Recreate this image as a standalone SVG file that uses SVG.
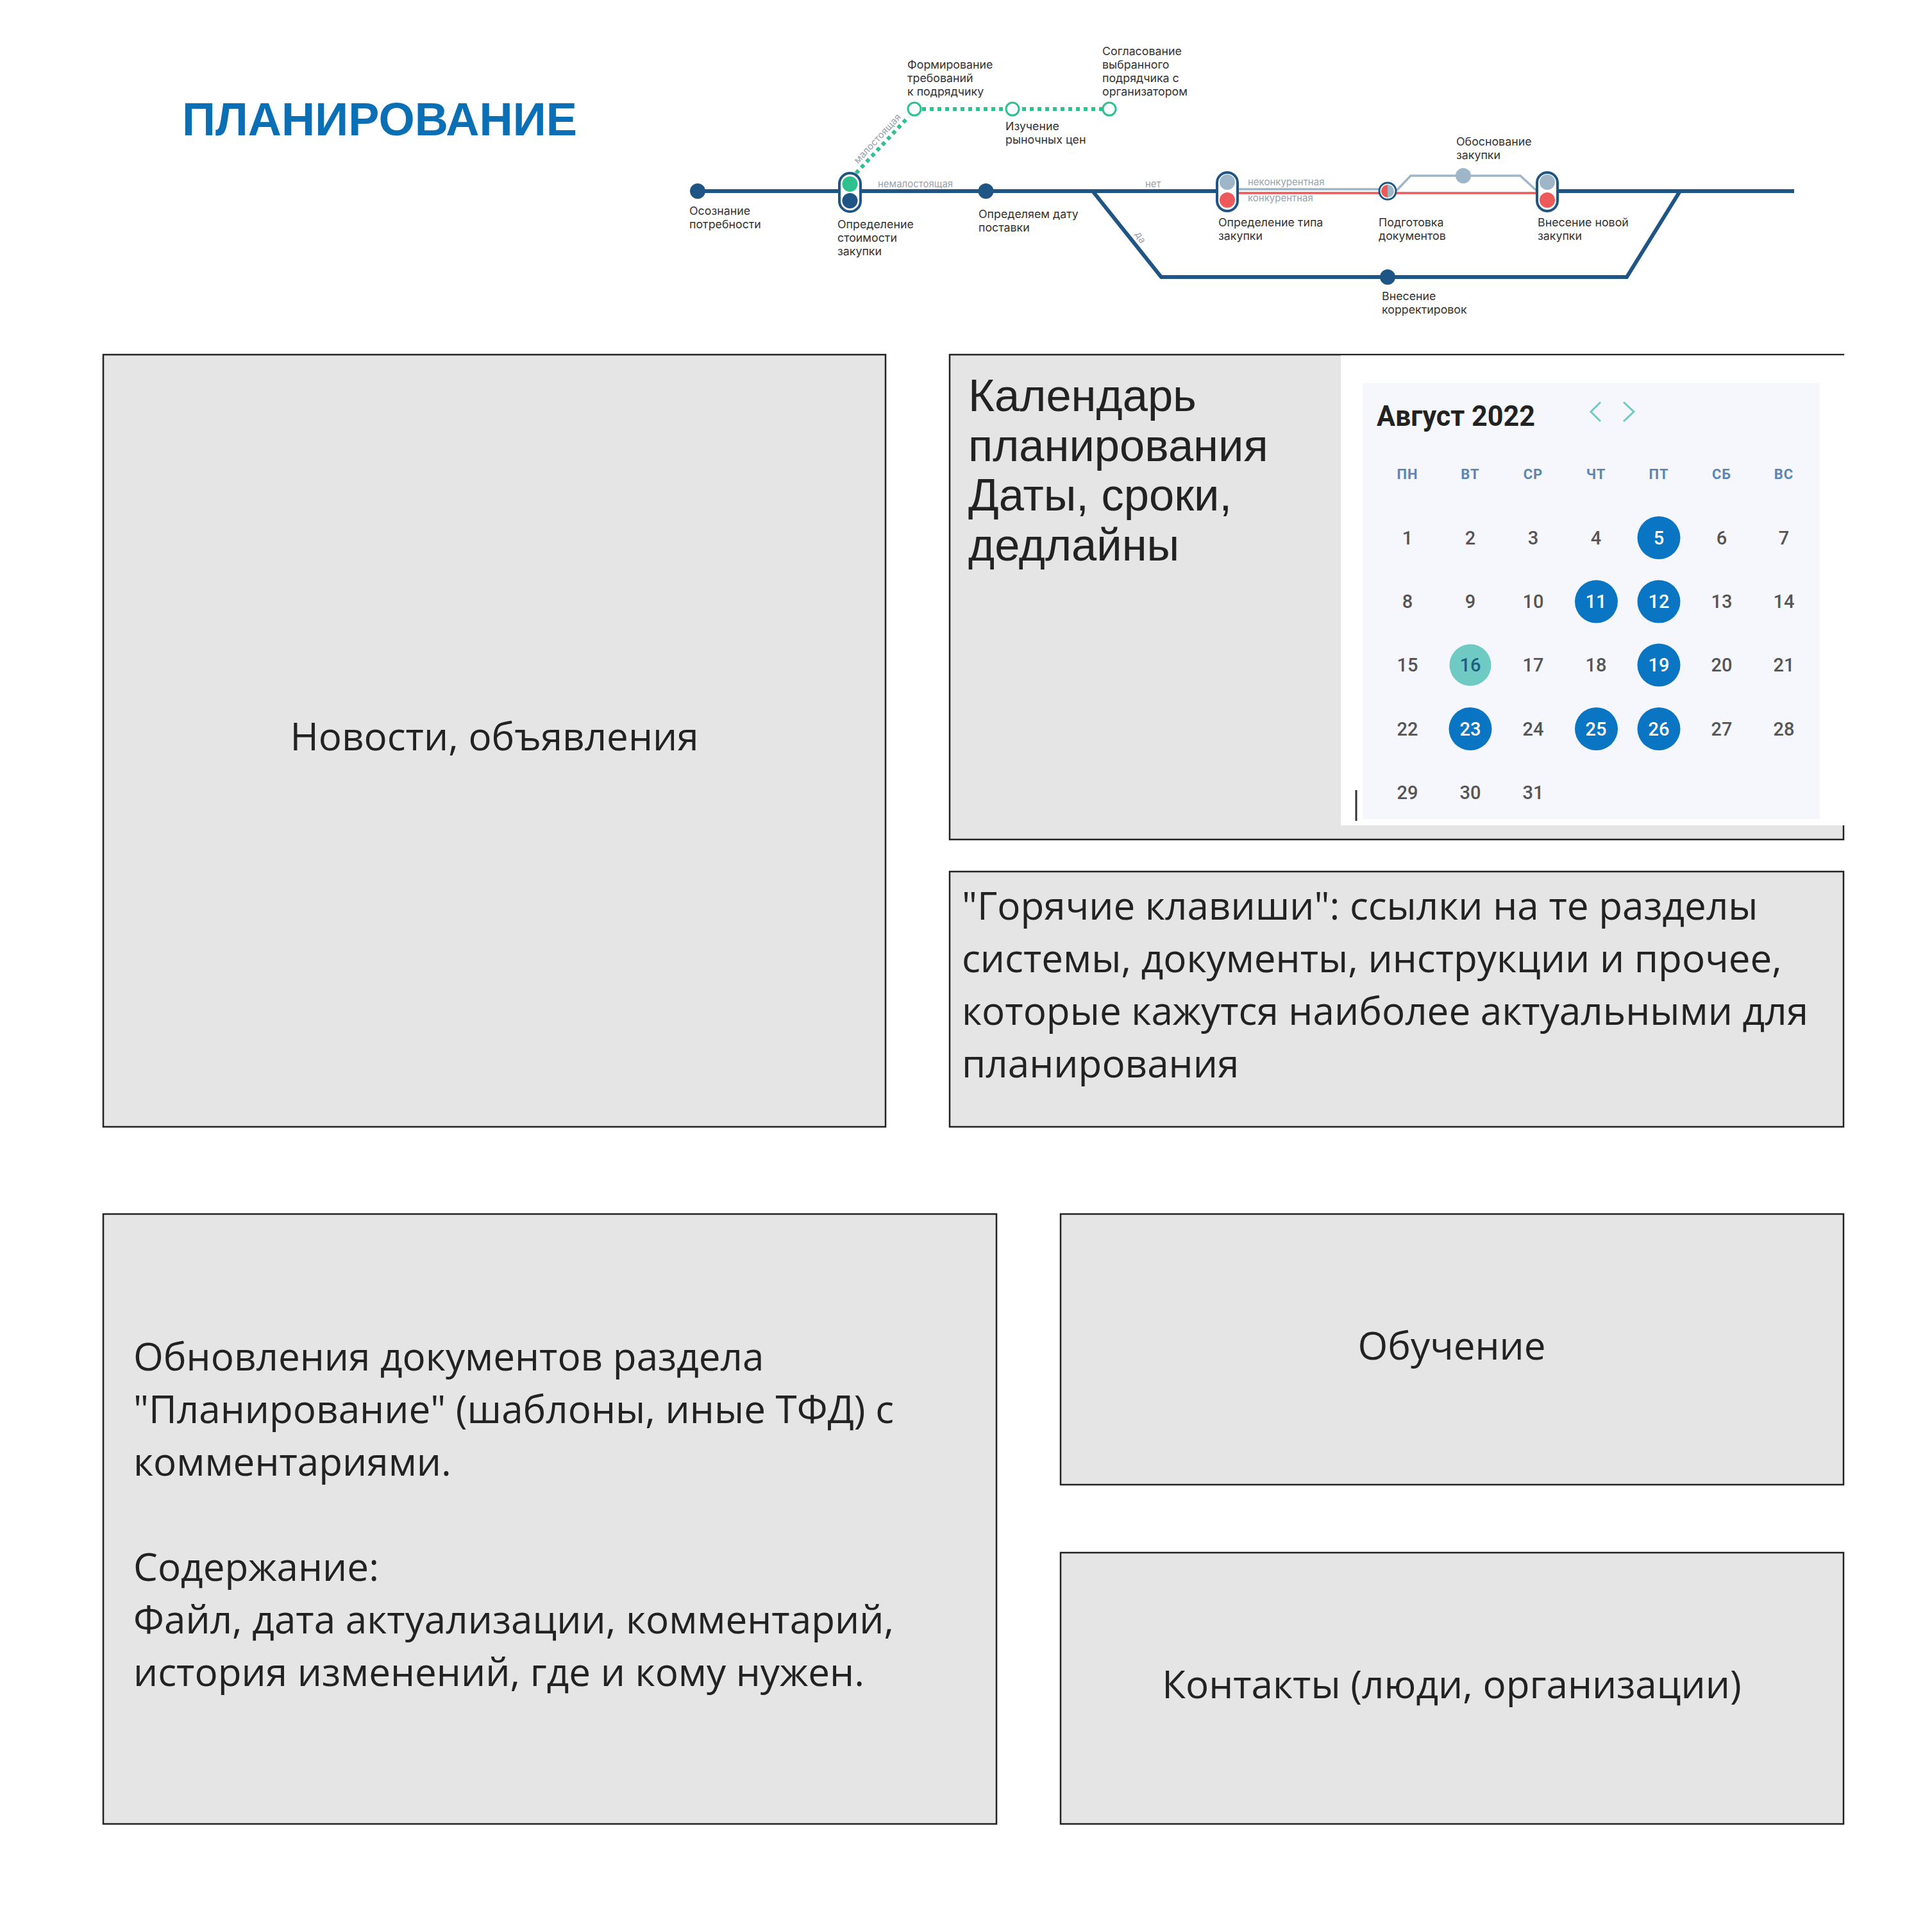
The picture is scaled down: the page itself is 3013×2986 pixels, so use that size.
<svg xmlns="http://www.w3.org/2000/svg" width="3013" height="2986" viewBox="0 0 3013 2986">
<style>
.box{fill:#e5e5e5;stroke:#222;stroke-width:2.5}
.t{font-family:"Open Sans","Noto Sans",sans-serif;font-size:60.2px;fill:#222}
.a{font-family:"Liberation Sans",Arial,sans-serif;font-size:70.5px;fill:#222}
.m{font-family:Inter,Roboto,sans-serif;font-size:17.8px;fill:#333}
.g{font-family:Inter,Roboto,sans-serif;font-size:15px;fill:#96a3ad}
.l{fill:none;stroke:#1e5585;stroke-width:6}
.d{font-family:Roboto,"Liberation Sans",sans-serif;font-size:29px;font-weight:500;fill:#555;text-anchor:middle}
.w{font-family:Roboto,"Liberation Sans",sans-serif;font-size:22px;font-weight:bold;fill:#5a85b5;text-anchor:middle;letter-spacing:1px}
.c{fill:#0a75c2}
.dw{fill:#fff}
</style>
<rect width="3013" height="2986" fill="#fff"/>
<text x="284" y="211" font-family="'Liberation Sans',Arial,sans-serif" font-size="73" font-weight="bold" fill="#0a6fb5" textLength="616" lengthAdjust="spacingAndGlyphs">ПЛАНИРОВАНИЕ</text>
<g id="connectors">
<path class="l" d="M1088 298H1914M2413 298H2798M1704 298L1811 432H2537L2620 298"/>
<path d="M1335 270L1417 182M1426 170H1730" fill="none" stroke="#2fc08f" stroke-width="6" stroke-dasharray="6 6"/>
<path d="M1914 295H2164" fill="none" stroke="#9fb6c9" stroke-width="3.5"/>
<path d="M1914 301H2413" fill="none" stroke="#ec5a5a" stroke-width="3.5"/>
<path d="M2178 297L2200 274H2371L2396 297" fill="none" stroke="#9fb6c9" stroke-width="3.5"/>
</g>
<g id="node-1"><circle cx="1088" cy="298" r="12" fill="#1e5585"/><text class="m"><tspan x="1075" y="335">Осознание</tspan><tspan x="1075" y="356">потребности</tspan></text></g>
<g id="node-2"><rect x="1309" y="270" width="33" height="60" rx="16.5" fill="#fff" stroke="#1e5585" stroke-width="4"/><circle cx="1325.5" cy="287" r="12" fill="#2fc08f"/><circle cx="1325.5" cy="313" r="12" fill="#1e5585"/><text class="m"><tspan x="1306" y="356">Определение</tspan><tspan x="1306" y="377">стоимости</tspan><tspan x="1306" y="398">закупки</tspan></text></g>
<g id="node-3"><circle cx="1537.5" cy="298" r="12" fill="#1e5585"/><text class="m"><tspan x="1526" y="340">Определяем дату</tspan><tspan x="1526" y="361">поставки</tspan></text></g>
<g id="node-4"><circle cx="1426" cy="170" r="10" fill="#fff" stroke="#2fc08f" stroke-width="3"/><text class="m"><tspan x="1415" y="107">Формирование</tspan><tspan x="1415" y="128">требований</tspan><tspan x="1415" y="149">к подрядчику</tspan></text></g>
<g id="node-5"><circle cx="1579" cy="170" r="10" fill="#fff" stroke="#2fc08f" stroke-width="3"/><text class="m"><tspan x="1568" y="203">Изучение</tspan><tspan x="1568" y="224">рыночных цен</tspan></text></g>
<g id="node-6"><circle cx="1730" cy="170" r="10" fill="#fff" stroke="#2fc08f" stroke-width="3"/><text class="m"><tspan x="1719" y="86">Согласование</tspan><tspan x="1719" y="107">выбранного</tspan><tspan x="1719" y="128">подрядчика с</tspan><tspan x="1719" y="149">организатором</tspan></text></g>
<g id="node-7"><rect x="1898" y="269" width="32" height="60" rx="16" fill="#fff" stroke="#1e5585" stroke-width="4"/><circle cx="1914" cy="284" r="12" fill="#9fb6c9"/><circle cx="1914" cy="312" r="12" fill="#ec5a5a"/><text class="m"><tspan x="1900" y="353">Определение типа</tspan><tspan x="1900" y="374">закупки</tspan></text></g>
<g id="node-8"><circle cx="2164" cy="298" r="13" fill="#fff" stroke="#1e5585" stroke-width="3"/><path d="M2164 288A10 10 0 0 0 2164 308Z" fill="#ec5a5a"/><path d="M2164 288A10 10 0 0 1 2164 308Z" fill="#9fb6c9"/><text class="m"><tspan x="2150" y="353">Подготовка</tspan><tspan x="2150" y="374">документов</tspan></text></g>
<g id="node-9"><circle cx="2282" cy="274" r="12" fill="#9fb6c9"/><text class="m"><tspan x="2271" y="227">Обоснование</tspan><tspan x="2271" y="248">закупки</tspan></text></g>
<g id="node-10"><rect x="2397" y="269" width="32" height="60" rx="16" fill="#fff" stroke="#1e5585" stroke-width="4"/><circle cx="2413" cy="284" r="12" fill="#9fb6c9"/><circle cx="2413" cy="312" r="12" fill="#ec5a5a"/><text class="m"><tspan x="2398" y="353">Внесение новой</tspan><tspan x="2398" y="374">закупки</tspan></text></g>
<g id="node-11"><circle cx="2164" cy="432" r="12" fill="#1e5585"/><text class="m"><tspan x="2155" y="468">Внесение</tspan><tspan x="2155" y="489">корректировок</tspan></text></g>
<g id="line-labels">
<text class="g" transform="translate(1338 256) rotate(-47)">малостоящая</text>
<text class="g" x="1369" y="292">немалостоящая</text>
<text class="g" x="1786" y="292">нет</text>
<text class="g" transform="translate(1770 365) rotate(60)">да</text>
<text class="g" x="1946" y="289">неконкурентная</text>
<text class="g" x="1946" y="314">конкурентная</text>
</g>
<g id="news"><rect class="box" x="161" y="553" width="1220" height="1204"/><text class="t" x="771" y="1170" text-anchor="middle">Новости, объявления</text></g>
<g id="calendar"><rect class="box" x="1481" y="553" width="1394" height="756"/><rect x="2091" y="554" width="786" height="733" fill="#fff"/><path d="M2091 553H2875" stroke="#222" stroke-width="2"/>
<text class="a"><tspan x="1510" y="641">Календарь</tspan><tspan x="1510" y="719">планирования</tspan><tspan x="1510" y="796">Даты, сроки,</tspan><tspan x="1510" y="874">дедлайны</tspan></text>
<rect x="2125" y="597" width="713" height="680" fill="#f5f7fd"/>
<path d="M2115 1232V1280" stroke="#333" stroke-width="3"/>
<text x="2147" y="664" font-family="Roboto,'Liberation Sans',sans-serif" font-size="45" font-weight="bold" fill="#222" textLength="247" lengthAdjust="spacingAndGlyphs">Август 2022</text>
<path d="M2496 627L2481 642L2496 657M2532 627L2548 642L2532 657" fill="none" stroke="#6fcac3" stroke-width="3"/>
<text class="w" y="747"><tspan x="2195">ПН</tspan><tspan x="2293">ВТ</tspan><tspan x="2391">СР</tspan><tspan x="2489">ЧТ</tspan><tspan x="2587">ПТ</tspan><tspan x="2685">СБ</tspan><tspan x="2782">ВС</tspan></text>
<circle class="c" cx="2587" cy="838.5" r="33.5"/><circle class="c" cx="2489.5" cy="938" r="33.5"/><circle class="c" cx="2587" cy="938" r="33.5"/><circle cx="2293" cy="1037" r="32.5" fill="#6fcac3"/><circle class="c" cx="2587" cy="1037" r="33.5"/><circle class="c" cx="2293" cy="1136.5" r="33.5"/><circle class="c" cx="2489.5" cy="1136.5" r="33.5"/><circle class="c" cx="2587" cy="1136.5" r="33.5"/>
<text class="d" y="849"><tspan x="2195">1</tspan><tspan x="2293">2</tspan><tspan x="2391">3</tspan><tspan x="2489">4</tspan><tspan x="2587" class="dw">5</tspan><tspan x="2685">6</tspan><tspan x="2782">7</tspan></text>
<text class="d" y="948"><tspan x="2195">8</tspan><tspan x="2293">9</tspan><tspan x="2391">10</tspan><tspan x="2489" class="dw">11</tspan><tspan x="2587" class="dw">12</tspan><tspan x="2685">13</tspan><tspan x="2782">14</tspan></text>
<text class="d" y="1047"><tspan x="2195">15</tspan><tspan x="2293" fill="#1d5f82">16</tspan><tspan x="2391">17</tspan><tspan x="2489">18</tspan><tspan x="2587" class="dw">19</tspan><tspan x="2685">20</tspan><tspan x="2782">21</tspan></text>
<text class="d" y="1147"><tspan x="2195">22</tspan><tspan x="2293" class="dw">23</tspan><tspan x="2391">24</tspan><tspan x="2489" class="dw">25</tspan><tspan x="2587" class="dw">26</tspan><tspan x="2685">27</tspan><tspan x="2782">28</tspan></text>
<text class="d" y="1246"><tspan x="2195">29</tspan><tspan x="2293">30</tspan><tspan x="2391">31</tspan></text>
</g>
<g id="hotkeys"><rect class="box" x="1481" y="1359" width="1394" height="398"/><text class="t"><tspan x="1500" y="1434">"Горячие клавиши": ссылки на те разделы</tspan><tspan x="1500" y="1516">системы, документы, инструкции и прочее,</tspan><tspan x="1500" y="1598">которые кажутся наиболее актуальными для</tspan><tspan x="1500" y="1680">планирования</tspan></text></g>
<g id="updates"><rect class="box" x="161" y="1893" width="1393" height="951"/><text class="t"><tspan x="208" y="2137">Обновления документов раздела</tspan><tspan x="208" y="2219">"Планирование" (шаблоны, иные ТФД) с</tspan><tspan x="208" y="2301">комментариями.</tspan><tspan x="208" y="2465">Содержание:</tspan><tspan x="208" y="2547">Файл, дата актуализации, комментарий,</tspan><tspan x="208" y="2629">история изменений, где и кому нужен.</tspan></text></g>
<g id="training"><rect class="box" x="1654" y="1893" width="1221" height="422"/><text class="t" x="2264" y="2120" text-anchor="middle">Обучение</text></g>
<g id="contacts"><rect class="box" x="1654" y="2421" width="1221" height="423"/><text class="t" x="2264" y="2648" text-anchor="middle">Контакты (люди, организации)</text></g>
</svg>
